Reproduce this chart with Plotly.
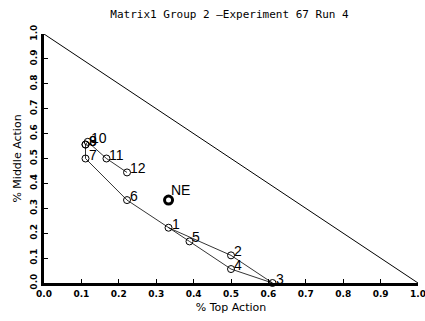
import plotly.graph_objects as go

# Round-by-round play of the group (fraction of Top / Middle actions)
rounds = ["1", "2", "3", "4", "5", "6", "7", "8", "9", "10", "11", "12"]
top_share = [0.333, 0.5, 0.611, 0.5, 0.389, 0.222, 0.111, 0.111, 0.111, 0.117, 0.167, 0.222]
middle_share = [0.222, 0.111, 0.0, 0.056, 0.167, 0.333, 0.5, 0.556, 0.556, 0.567, 0.5, 0.444]

# Nash equilibrium point
ne_label = "NE"
ne_top = [0.333]
ne_middle = [0.333]

# Simplex boundary (Top + Middle = 1)
edge_x = [0.0, 1.0]
edge_y = [1.0, 0.0]

tick_vals = [0.0, 0.1, 0.2, 0.3, 0.4, 0.5, 0.6, 0.7, 0.8, 0.9, 1.0]
tick_text = ["0.0", "0.1", "0.2", "0.3", "0.4", "0.5", "0.6", "0.7", "0.8", "0.9", "1.0"]

label_font = dict(family="Liberation Sans", size=14, color="black")

fig = go.Figure()

fig.add_trace(go.Scatter(
    x=edge_x, y=edge_y, mode="lines",
    line=dict(color="black", width=1), cliponaxis=False, hoverinfo="skip",
))

fig.add_trace(go.Scatter(
    x=top_share, y=middle_share, mode="lines+markers",
    line=dict(color="black", width=0.8),
    marker=dict(symbol="circle-open", size=7, color="black", line=dict(width=1)),
    cliponaxis=False,
))

fig.add_trace(go.Scatter(
    x=ne_top, y=ne_middle, mode="markers",
    marker=dict(symbol="circle-open", size=8, color="black", line=dict(width=3)),
    cliponaxis=False,
))

# Round numbers written just to the upper right of each point
annotations = [
    dict(x=x, y=y, text=t, showarrow=False, xanchor="left", yanchor="middle",
         xshift=1, yshift=4, font=label_font)
    for x, y, t in zip(top_share, middle_share, rounds)
]
annotations.append(dict(x=ne_top[0], y=ne_middle[0], text=ne_label, showarrow=False,
                        xanchor="left", yanchor="middle", xshift=0, yshift=10,
                        font=label_font))

axis_common = dict(
    range=[0, 1], tickvals=tick_vals, ticktext=tick_text,
    showgrid=False, zeroline=False, showline=True,
    linecolor="black", linewidth=3, mirror=False,
    ticks="inside", ticklen=4, tickwidth=1, tickcolor="black",
    ticklabeloverflow="allow", automargin=False,
    tickfont=dict(family="DejaVu Sans", size=9, color="black", weight="bold"),
)

fig.update_layout(
    width=425, height=321,
    margin=dict(l=44, r=7, t=34, b=38),
    paper_bgcolor="white", plot_bgcolor="white",
    showlegend=False,
    annotations=annotations,
    title=dict(
        text="Matrix1 Group 2 \u2014Experiment 67 Run 4",
        x=0.54, xanchor="center", y=0.955, yanchor="middle",
        font=dict(family="DejaVu Sans Mono", size=11, color="black"),
    ),
    xaxis=dict(
        **axis_common,
        title=dict(text="% Top Action", standoff=6,
                   font=dict(family="DejaVu Sans", size=11, color="black")),
    ),
    yaxis=dict(
        **axis_common, tickangle=-90,
        title=dict(text="% Middle Action", standoff=6,
                   font=dict(family="DejaVu Sans", size=11, color="black")),
    ),
)

fig.write_html("out.html")
